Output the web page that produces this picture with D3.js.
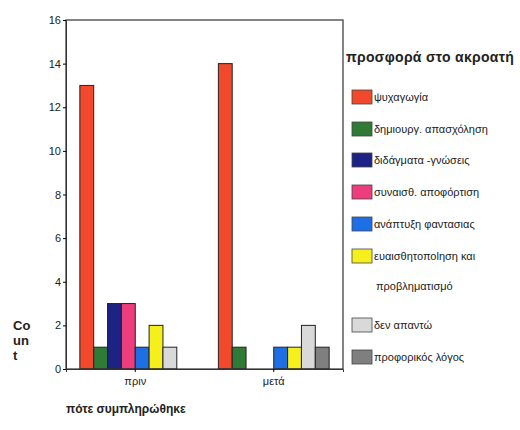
<!DOCTYPE html>
<html>
<head>
<meta charset="utf-8">
<script src="https://cdn.jsdelivr.net/npm/d3@7"></script>
<style>
  body { margin: 0; background: #fff; }
  text { font-family: "Liberation Sans", Arial, sans-serif; fill: #222; }
</style>
</head>
<body>
<div id="chart"></div>
<script>
// Data
var groups = ["πριν", "μετά"];
var categories = ["ψυχαγωγία", "δημιουργ. απασχόληση", "διδάγματα -γνώσεις", "συναισθ. αποφόρτιση",
                  "ανάπτυξη φαντασίας", "ευαισθητοποίηση και προβληματισμό", "δεν απαντώ", "προφορικός λόγος"];
var countsBefore = [13, 1, 3, 3, 1, 2, 1, 0];
var countsAfter = [14, 1, 0, 0, 1, 1, 2, 1];
var yTicks = [0, 2, 4, 6, 8, 10, 12, 14, 16];
var legendLines = [["ψυχαγωγία"], ["δημιουργ. απασχόληση"], ["διδάγματα -γνώσεις"], ["συναισθ. αποφόρτιση"],
                   ["ανάπτυξη φαντασιας"], ["ευαισθητοποlηση και", "προβληματισμό"], ["δεν απαντώ"], ["προφορικός λόγος"]];
var colors = ["#f2482c", "#2f7a34", "#1d2384", "#ee3d7c", "#1e6ee6", "#f5ef1c", "#d9d9d9", "#7f7f7f"];

var width = 520, height = 430;
var plot = {left: 66, top: 20, right: 343, bottom: 369};

var svg = d3.select("#chart")
            .append("svg")
              .attr("width", width)
              .attr("height", height);

// Scales
var x0 = d3.scaleBand()
           .domain(groups)
           .range([plot.left, plot.right])
           .paddingInner(0.2)
           .paddingOuter(0.1);

var x1 = d3.scaleBand()
           .domain(d3.range(categories.length))
           .range([0, x0.bandwidth()]);

var y = d3.scaleLinear()
          .domain([0, 16])
          .range([plot.bottom, plot.top]);

var color = d3.scaleOrdinal()
              .domain(d3.range(categories.length))
              .range(colors);

// Bars
var data = [countsBefore, countsAfter];
var g = svg.selectAll(".group")
           .data(data)
           .enter()
           .append("g")
             .attr("transform", function(d, i) { return "translate(" + x0(groups[i]) + ",0)"; });

g.selectAll("rect")
  .data(function(d) { return d.map(function(v, i) { return {i: i, v: v}; }).filter(function(e) { return e.v > 0; }); })
  .enter()
  .append("rect")
    .attr("x", function(d) { return x1(d.i); })
    .attr("y", function(d) { return y(d.v); })
    .attr("width", x1.bandwidth())
    .attr("height", function(d) { return y(0) - y(d.v); })
    .attr("fill", function(d) { return color(d.i); })
    .attr("stroke", "#222")
    .attr("stroke-width", 1);

// Frame
svg.append("rect")
    .attr("x", plot.left)
    .attr("y", plot.top)
    .attr("width", plot.right - plot.left)
    .attr("height", plot.bottom - plot.top)
    .attr("fill", "none")
    .attr("stroke", "#333")
    .attr("stroke-width", 1.2);

// Y axis
var yAxis = svg.append("g")
    .attr("transform", "translate(" + plot.left + ",0)")
    .call(d3.axisLeft(y).tickValues(yTicks).tickSize(3).tickPadding(2));
yAxis.select(".domain").attr("stroke", "#333");
yAxis.selectAll("text").style("font-size", "11px").attr("fill", "#333");

// X axis
var xAxis = svg.append("g")
    .attr("transform", "translate(0," + plot.bottom + ")")
    .call(d3.axisBottom(x0).tickSize(3).tickPadding(5));
xAxis.select(".domain").attr("stroke", "#333");
xAxis.selectAll("text").style("font-size", "11px").attr("fill", "#333");

// Axis titles
var countLabel = svg.append("text")
    .style("font-size", "13px")
    .style("font-weight", "bold")
    .attr("fill", "#333");
["Co", "un", "t"].forEach(function(s, i) {
  countLabel.append("tspan")
    .attr("x", 13)
    .attr("y", 330 + i * 15)
    .text(s);
});

svg.append("text")
    .attr("x", 66)
    .attr("y", 413)
    .style("font-size", "12px")
    .style("font-weight", "bold")
    .text("πότε συμπληρώθηκε");

// Legend
svg.append("text")
    .attr("x", 346)
    .attr("y", 62)
    .style("font-size", "14px")
    .style("font-weight", "bold")
    .style("letter-spacing", "0.3px")
    .text("προσφορά στο ακροατή");

var legendY = [97, 129, 160, 192, 224, 256, 325, 357];
var legend = svg.selectAll(".legend")
    .data(legendLines)
    .enter()
    .append("g")
      .attr("transform", function(d, i) { return "translate(352," + legendY[i] + ")"; });

legend.append("rect")
    .attr("x", 0)
    .attr("y", -7)
    .attr("width", 20)
    .attr("height", 14)
    .attr("fill", function(d, i) { return color(i); })
    .attr("stroke", "#444")
    .attr("stroke-width", 0.8);

legend.append("text")
    .attr("x", 22)
    .attr("y", 4)
    .style("font-size", "11px")
    .selectAll("tspan")
    .data(function(d) { return d; })
    .enter()
    .append("tspan")
      .attr("x", function(d, i) { return i === 0 ? 22 : 24; })
      .attr("dy", function(d, i) { return i === 0 ? 0 : 30; })
      .text(function(d) { return d; });
</script>
</body>
</html>
